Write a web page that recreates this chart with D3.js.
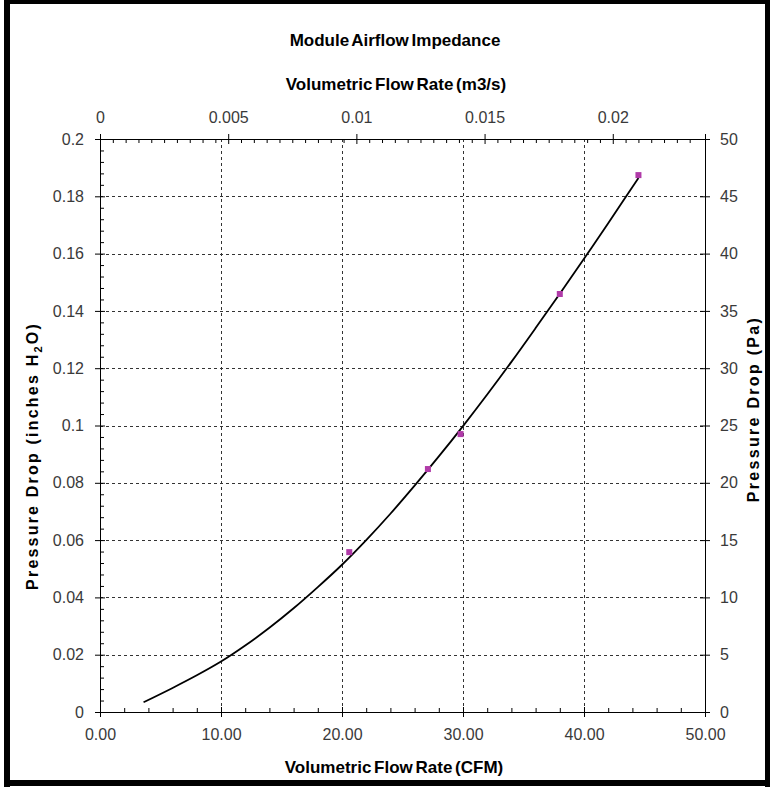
<!DOCTYPE html>
<html>
<head>
<meta charset="utf-8">
<script src="https://cdn.jsdelivr.net/npm/d3@7/dist/d3.min.js"></script>
<style>
  html, body { margin: 0; padding: 0; background: #fff; }
  svg { display: block; }
  text { font-family: "Liberation Sans", Arial, sans-serif; }
</style>
</head>
<body>
<svg id="chart" width="770" height="789"></svg>
<script>
// ---- Data ----
const measuredCFM   = [20.6, 27.1, 29.8, 38.0, 44.5];
const measuredInH2O = [0.0558, 0.0848, 0.097, 0.1459, 0.1874];

// fitted curve
const fitCFM   = [3.6, 6, 8, 10, 12, 14, 16, 18, 20, 22, 24, 26, 28, 30, 32, 34, 36, 38, 40, 42, 44.5];
const fitInH2O = [0.0034, 0.0084, 0.0128, 0.0176, 0.0232, 0.0294, 0.0362, 0.0436, 0.0514, 0.0600, 0.0692, 0.0790, 0.0892, 0.0998, 0.1108, 0.1222, 0.1340, 0.1460, 0.1582, 0.1706, 0.1864];

const bottomTicks = [0, 10, 20, 30, 40, 50];
const bottomMinor = [2,4,6,8,12,14,16,18,22,24,26,28,32,34,36,38,42,44,46,48];
const leftTicks   = [0, 0.02, 0.04, 0.06, 0.08, 0.1, 0.12, 0.14, 0.16, 0.18, 0.2];
const rightTicks  = [0, 5, 10, 15, 20, 25, 30, 35, 40, 45, 50];
const topTicks    = [0, 0.005, 0.01, 0.015, 0.02];
const CFM_TO_M3S  = 0.000471947;

const titleText       = "Module Airflow Impedance";
const topAxisTitle    = "Volumetric Flow Rate (m3/s)";
const bottomAxisTitle = "Volumetric Flow Rate (CFM)";
const rightAxisTitle  = "Pressure Drop (Pa)";

// ---- Layout ----
const svg = d3.select("#chart");
const L = 100, R = 705, T = 139, B = 712;

const x  = d3.scaleLinear().domain([0, 50]).range([L, R]);
const xT = d3.scaleLinear().domain([0, 50 * CFM_TO_M3S]).range([L, R]);
const y  = d3.scaleLinear().domain([0, 0.2]).range([B, T]);
const yR = d3.scaleLinear().domain([0, 50]).range([B, T]);

const topMinor = d3.range(0, 0.0235, 0.0005).filter(v => Math.abs(v/0.005 - Math.round(v/0.005)) > 1e-6);
const leftMinor = d3.range(0, 0.2001, 0.004).filter(v => Math.abs(v/0.02 - Math.round(v/0.02)) > 1e-6);

// frame
const frame = svg.append("g").attr("fill", "#000");
frame.append("rect").attr("x", 4).attr("y", 0).attr("width", 6).attr("height", 787);
frame.append("rect").attr("x", 4).attr("y", 0).attr("width", 766).attr("height", 4);
frame.append("rect").attr("x", 765).attr("y", 0).attr("width", 5).attr("height", 787);
frame.append("rect").attr("x", 4).attr("y", 780).attr("width", 766).attr("height", 6);

// gridlines
const grid = svg.append("g").attr("stroke", "#333").attr("stroke-width", 1).attr("stroke-dasharray", "3,3");
grid.selectAll("line.h").data(leftTicks.filter(v => v > 0 && v < 0.2)).join("line")
  .attr("class", "h")
  .attr("x1", L).attr("x2", R).attr("y1", d => Math.round(y(d)) + 0.5).attr("y2", d => Math.round(y(d)) + 0.5);
grid.selectAll("line.v").data(bottomTicks.filter(v => v > 0 && v < 50)).join("line")
  .attr("class", "v")
  .attr("y1", T).attr("y2", B).attr("x1", d => Math.round(x(d)) + 0.5).attr("x2", d => Math.round(x(d)) + 0.5);

function styleAxis(g, size) {
  g.selectAll("text").attr("font-size", size).attr("fill", "#3a3a3a");
  g.selectAll("path, line").attr("stroke", "#000");
}

// bottom axis
svg.append("g").attr("transform", `translate(0,${B})`)
  .call(d3.axisBottom(x).tickValues(bottomTicks).tickSize(5).tickPadding(12).tickFormat(d3.format(".2f")))
  .call(g => styleAxis(g, 16));
svg.append("g").attr("transform", `translate(0,${B})`)
  .call(d3.axisTop(x).tickValues(bottomTicks).tickSize(5).tickFormat(""))
  .call(g => { g.select(".domain").remove(); styleAxis(g, 16); });
svg.append("g").attr("transform", `translate(0,${B})`)
  .call(d3.axisTop(x).tickValues(bottomMinor).tickSize(4).tickFormat(""))
  .call(g => { g.select(".domain").remove(); styleAxis(g, 16); });

// top axis
svg.append("g").attr("transform", `translate(0,${T})`)
  .call(d3.axisTop(xT).tickValues(topTicks).tickSize(5).tickPadding(11).tickFormat(d => d === 0 ? "0" : d3.format("")(+d.toFixed(3))))
  .call(g => styleAxis(g, 16));
svg.append("g").attr("transform", `translate(0,${T})`)
  .call(d3.axisBottom(xT).tickValues(topTicks).tickSize(5).tickFormat(""))
  .call(g => { g.select(".domain").remove(); styleAxis(g, 16); });
svg.append("g").attr("transform", `translate(0,${T})`)
  .call(d3.axisBottom(xT).tickValues(topMinor).tickSize(4).tickFormat(""))
  .call(g => { g.select(".domain").remove(); styleAxis(g, 16); });

// left axis
svg.append("g").attr("transform", `translate(${L},0)`)
  .call(d3.axisLeft(y).tickValues(leftTicks).tickSize(5).tickPadding(11).tickFormat(d => d3.format("")(+d.toFixed(2))))
  .call(g => styleAxis(g, 16));
svg.append("g").attr("transform", `translate(${L},0)`)
  .call(d3.axisRight(y).tickValues(leftTicks).tickSize(5).tickFormat(""))
  .call(g => { g.select(".domain").remove(); styleAxis(g, 16); });
svg.append("g").attr("transform", `translate(${L},0)`)
  .call(d3.axisRight(y).tickValues(leftMinor).tickSize(4).tickFormat(""))
  .call(g => { g.select(".domain").remove(); styleAxis(g, 16); });

// right axis
svg.append("g").attr("transform", `translate(${R},0)`)
  .call(d3.axisRight(yR).tickValues(rightTicks).tickSize(5).tickPadding(10).tickFormat(d3.format("d")))
  .call(g => styleAxis(g, 16));
svg.append("g").attr("transform", `translate(${R},0)`)
  .call(d3.axisLeft(yR).tickValues(rightTicks).tickSize(5).tickFormat(""))
  .call(g => { g.select(".domain").remove(); styleAxis(g, 16); });

// fitted curve
const fit = fitCFM.map((c, i) => [c, fitInH2O[i]]);
svg.append("path").datum(fit)
  .attr("fill", "none").attr("stroke", "#000").attr("stroke-width", 1.8)
  .attr("d", d3.line().x(d => x(d[0])).y(d => y(d[1])).curve(d3.curveCatmullRom));

// measured points
const pts = measuredCFM.map((c, i) => [c, measuredInH2O[i]]);
svg.append("g").selectAll("rect").data(pts).join("rect")
  .attr("x", d => x(d[0]) - 3).attr("y", d => y(d[1]) - 3)
  .attr("width", 6).attr("height", 6).attr("fill", "#b03aa8");

// titles
svg.append("text").attr("x", 395).attr("y", 46).attr("text-anchor", "middle")
  .attr("font-size", 17).attr("font-weight", "bold").attr("word-spacing", -2).text(titleText);
svg.append("text").attr("x", 396).attr("y", 90).attr("text-anchor", "middle")
  .attr("font-size", 17).attr("font-weight", "bold").attr("word-spacing", -2).text(topAxisTitle);
svg.append("text").attr("x", 394).attr("y", 773).attr("text-anchor", "middle")
  .attr("font-size", 17).attr("font-weight", "bold").attr("word-spacing", -2).text(bottomAxisTitle);

const lt = svg.append("text").attr("transform", "translate(38,456) rotate(-90)")
  .attr("text-anchor", "middle").attr("font-size", 16).attr("font-weight", "bold").attr("letter-spacing", 2.2);
lt.append("tspan").text("Pressure Drop (inches H");
lt.append("tspan").attr("font-size", 11).attr("dy", 4).text("2");
lt.append("tspan").attr("dy", -4).text("O)");

svg.append("text").attr("transform", "translate(759,409) rotate(-90)")
  .attr("text-anchor", "middle").attr("font-size", 16).attr("font-weight", "bold").attr("letter-spacing", 2.3)
  .text(rightAxisTitle);
</script>
</body>
</html>
